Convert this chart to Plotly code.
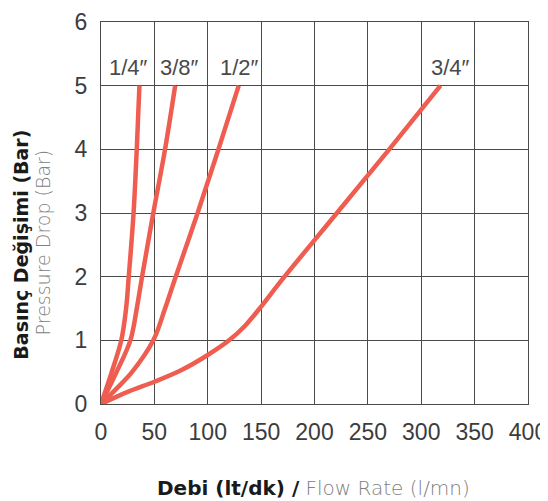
import plotly.graph_objects as go

sizes = ["1/4″", "3/8″", "1/2″", "3/4″"]
flow_14 = [0, 10, 19, 23.5, 26, 30.5, 33.5, 36]
pres_14 = [0, 0.5, 1, 1.5, 2, 3, 4, 5]
flow_38 = [0, 14.5, 27.5, 33.5, 38.5, 49, 60, 69.5]
pres_38 = [0, 0.5, 1, 1.5, 2, 3, 4, 5]
flow_12 = [0, 15, 29, 49, 60, 70, 90.5, 110, 129]
pres_12 = [0, 0.25, 0.5, 1, 1.5, 2, 3, 4, 5]
flow_34 = [0, 25, 50, 75, 100, 120, 135, 150, 170, 221, 270, 318]
pres_34 = [0, 0.19, 0.35, 0.53, 0.77, 1.0, 1.23, 1.53, 1.96, 3, 4, 5]
x_ticks = [0, 50, 100, 150, 200, 250, 300, 350, 400]
y_ticks = [0, 1, 2, 3, 4, 5, 6]
label_shift = [-11, 4, 1, 10]

series = [(flow_14, pres_14), (flow_38, pres_38), (flow_12, pres_12), (flow_34, pres_34)]
color = "#EE5D50"
TITLE_FONT = "DejaVu Sans"
TICK_FONT = "Liberation Sans"

fig = go.Figure()
for (fx, py) in series:
    fig.add_trace(go.Scatter(x=fx, y=py, mode="lines",
                             line=dict(color=color, width=4.5, shape="spline", smoothing=1.0),
                             showlegend=False, hoverinfo="skip"))

for name, (fx, py), sh in zip(sizes, series, label_shift):
    fig.add_annotation(x=fx[-1], y=py[-1], text=name, showarrow=False,
                       xanchor="center", yanchor="bottom", xshift=sh, yshift=4,
                       font=dict(family=TICK_FONT, size=22, color="#4a4a4a"))

fig.add_annotation(xref="paper", yref="paper", x=0.497, y=-0.22,
                   text="<b>Debi (lt/dk) /</b> <span style='color:#808080;font-weight:300'>Flow Rate (l/mn)</span>",
                   showarrow=False, xanchor="center", yanchor="middle",
                   font=dict(family=TITLE_FONT, size=20, color="#1a1a1a"))
fig.add_annotation(xref="paper", yref="paper", x=-0.186, y=0.416,
                   text="<b>Basınç Değişimi (Bar)</b>", textangle=-90,
                   showarrow=False, xanchor="center", yanchor="middle",
                   font=dict(family=TITLE_FONT, size=19, color="#1a1a1a"))
fig.add_annotation(xref="paper", yref="paper", x=-0.135, y=0.424,
                   text="Pressure Drop (Bar)", textangle=-90,
                   showarrow=False, xanchor="center", yanchor="middle",
                   font=dict(family=TITLE_FONT, size=19, color="#808080", weight=300))

axis_common = dict(showgrid=True, gridcolor="#4a4a4a", gridwidth=1.2,
                   showline=True, linecolor="#4a4a4a", linewidth=1.2, mirror=True,
                   zeroline=False, ticks="", ticklabeloverflow="allow",
                   tickfont=dict(family=TICK_FONT, size=23, color="#3c3c3c"))
fig.update_xaxes(range=[0, 400], tickvals=x_ticks, ticklabelstandoff=7, **axis_common)
fig.update_yaxes(range=[0, 6], tickvals=y_ticks, ticklabelstandoff=8, **axis_common)

# page body has an 8px margin, so the figure is 8px smaller than the window
fig.update_layout(width=540, height=493,
                  margin=dict(l=93, r=20, t=14, b=97, autoexpand=False),
                  plot_bgcolor="white", paper_bgcolor="white")
fig.write_html("out.html")
